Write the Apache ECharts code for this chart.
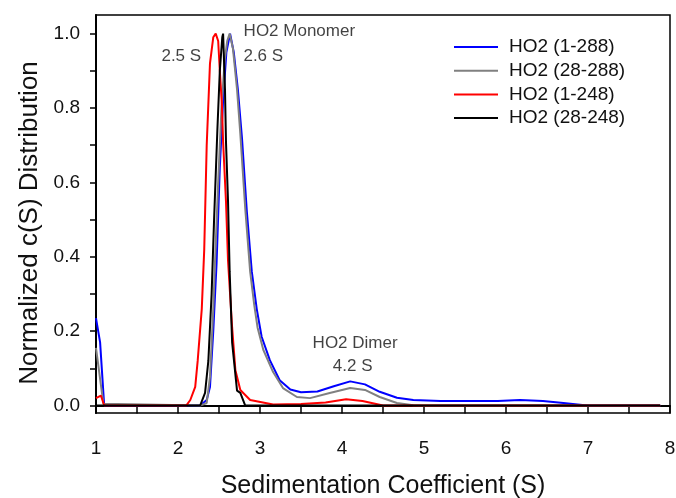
<!DOCTYPE html>
<html><head><meta charset="utf-8">
<script src="https://cdn.jsdelivr.net/npm/echarts@6/dist/echarts.min.js"></script>
<style>html,body{margin:0;padding:0;background:#fff}#c{width:676px;height:498px}</style>
</head><body><div id="c"></div>
<script>
const seriesNames = ['HO2 (1-288)', 'HO2 (28-288)', 'HO2 (1-248)', 'HO2 (28-248)'];
const seriesColors = ['#0000ff', '#808080', '#ff0000', '#000000'];
const xTicks = [1, 2, 3, 4, 5, 6, 7, 8];
const yTickLabels = [0, 0.2, 0.4, 0.6, 0.8, 1.0];
const yTickMarks = [0, 0.1, 0.2, 0.3, 0.4, 0.5, 0.6, 0.7, 0.8, 0.9, 1.0];

const blueData = [[1.0,0.235],[1.05,0.17],[1.1,0.0],[2.27,0.0],[2.35,0.015],[2.39,0.05],[2.43,0.2],[2.47,0.38],[2.51,0.64],[2.55,0.82],[2.59,0.95],[2.635,1.0],[2.68,0.95],[2.73,0.85],[2.78,0.72],[2.84,0.52],[2.9,0.36],[2.96,0.26],[3.02,0.185],[3.12,0.122],[3.24,0.068],[3.37,0.043],[3.5,0.036],[3.7,0.038],[3.9,0.052],[4.1,0.065],[4.28,0.057],[4.46,0.037],[4.67,0.021],[4.87,0.015],[5.2,0.012],[5.9,0.012],[6.17,0.015],[6.45,0.012],[6.7,0.007],[6.96,0.001],[7.0,0],[7.88,0]];
const grayData = [[1.0,0.155],[1.09,0.005],[1.1,0],[2.27,0],[2.35,0.007],[2.39,0.077],[2.43,0.26],[2.45,0.38],[2.49,0.6],[2.53,0.8],[2.57,0.93],[2.6,0.98],[2.63,1.0],[2.67,0.96],[2.72,0.85],[2.76,0.73],[2.82,0.53],[2.88,0.36],[2.93,0.27],[2.97,0.21],[3.04,0.15],[3.16,0.09],[3.28,0.047],[3.45,0.023],[3.61,0.02],[3.85,0.034],[4.1,0.047],[4.28,0.042],[4.46,0.023],[4.67,0.007],[4.87,0.001],[5.0,0],[7.88,0]];
const redData = [[1.0,0.02],[1.06,0.027],[1.1,0],[2.1,0],[2.15,0.015],[2.21,0.05],[2.24,0.12],[2.29,0.26],[2.32,0.42],[2.35,0.7],[2.39,0.92],[2.43,0.99],[2.46,1.0],[2.49,0.98],[2.51,0.9],[2.535,0.81],[2.55,0.71],[2.585,0.55],[2.61,0.39],[2.66,0.21],[2.7,0.095],[2.76,0.042],[2.88,0.015],[3.16,0.003],[3.5,0.004],[3.8,0.008],[4.05,0.017],[4.25,0.012],[4.5,0.0],[7.88,0]];
const blackData = [[1.0,0],[2.27,0],[2.33,0.034],[2.37,0.12],[2.41,0.3],[2.44,0.5],[2.48,0.74],[2.51,0.9],[2.54,0.99],[2.55,1.0],[2.573,0.85],[2.585,0.71],[2.61,0.55],[2.63,0.36],[2.66,0.17],[2.72,0.04],[2.76,0.034],[2.82,0],[7.88,0]];

const annotations = [
  {text: 'HO2 Monomer', x: 3.48, y: 1.007},
  {text: '2.6 S', x: 3.04, y: 0.94},
  {text: '2.5 S', x: 2.04, y: 0.94},
  {text: 'HO2 Dimer', x: 4.16, y: 0.168},
  {text: '4.2 S', x: 4.13, y: 0.106}
];

const allData = [blueData, grayData, redData, blackData];
const FONT = 'Liberation Sans, Arial, sans-serif';
const TXT = '#111';

const chart = echarts.init(document.getElementById('c'), null, {renderer: 'canvas'});
const series = allData.map((d, i) => ({
  name: seriesNames[i], type: 'line', data: d, showSymbol: false, symbol: 'none',
  lineStyle: {color: seriesColors[i], width: 2}, itemStyle: {color: seriesColors[i]},
  animation: false, z: 2 + i
}));
series.push({
  type: 'scatter', data: annotations.map(a => ({value: [a.x, a.y], label: {formatter: a.text}})),
  symbolSize: 1, itemStyle: {color: 'rgba(0,0,0,0)'}, silent: true, animation: false,
  label: {show: true, position: 'inside', color: TXT, fontSize: 17, fontFamily: FONT, align: 'center', verticalAlign: 'middle'}
});

chart.setOption({
  animation: false,
  grid: {left: 96, right: 6, top: 15, bottom: 85, show: true, borderColor: '#000', borderWidth: 1.5,
    backgroundColor: 'transparent', containLabel: false, outerBoundsMode: 'none'},
  legend: {
    data: seriesNames, orient: 'vertical', left: 449, top: 32,
    itemWidth: 44, itemHeight: 20, itemGap: 3.7, icon: 'path://M0,0 L44,0 L44,2 L0,2 Z',
    textStyle: {fontSize: 19, fontFamily: FONT, color: TXT, lineHeight: 20, padding: [0, 0, 0, 6]}
  },
  xAxis: {
    type: 'value', min: 1, max: 8, interval: 1,
    name: 'Sedimentation Coefficient (S)', nameLocation: 'middle', nameGap: 61,
    nameTextStyle: {fontSize: 25, fontFamily: FONT, color: TXT},
    axisLine: {show: true, lineStyle: {color: '#000', width: 2}},
    axisTick: {show: true, inside: false, length: 8, lineStyle: {color: '#000', width: 1.5}},
    minorTick: {show: true, splitNumber: 2, length: 8, lineStyle: {color: '#000', width: 1.5}},
    axisLabel: {fontSize: 19, fontFamily: FONT, color: TXT, margin: 26,
      customValues: xTicks, formatter: v => String(v)},
    splitLine: {show: false}
  },
  yAxis: {
    type: 'value', min: -0.02, max: 1.05,
    name: 'Normalized c(S) Distribution', nameLocation: 'middle', nameGap: 52,
    nameTextStyle: {fontSize: 26, fontFamily: FONT, color: TXT, padding: [0, 18, 0, 0]},
    axisLine: {show: true, lineStyle: {color: '#000', width: 2}},
    axisTick: {show: true, inside: false, length: 6, customValues: yTickMarks, lineStyle: {color: '#000', width: 1.5}},
    axisLabel: {fontSize: 19, fontFamily: FONT, color: TXT, margin: 16,
      customValues: yTickLabels, formatter: v => v.toFixed(1)},
    splitLine: {show: false}
  },
  series: series
});
</script></body></html>
